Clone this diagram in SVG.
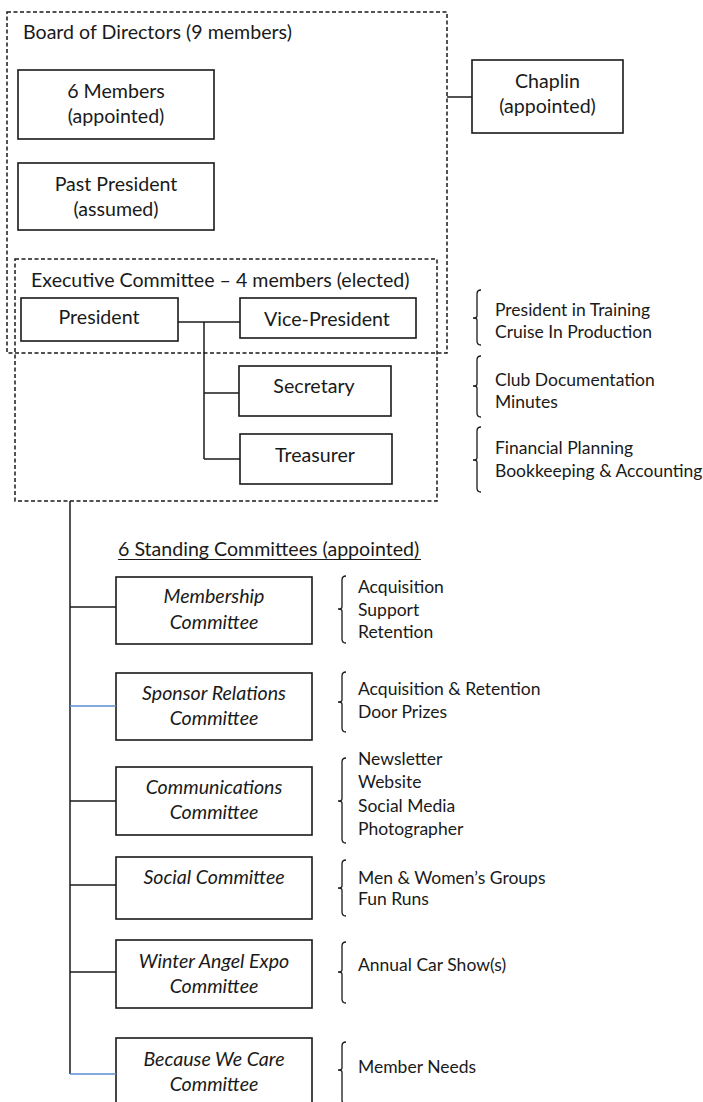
<svg xmlns="http://www.w3.org/2000/svg" width="703" height="1102" viewBox="0 0 703 1102">
<style>
.box{fill:#fff;stroke:#1a1a1a;stroke-width:1.6}
.dash{fill:none;stroke:#1a1a1a;stroke-width:1.5;stroke-dasharray:4 2.5}
.ln{fill:none;stroke:#1a1a1a;stroke-width:1.5}
.blue{fill:none;stroke:#5b8fd0;stroke-width:1.5}
.br{fill:none;stroke:#1a1a1a;stroke-width:1.3}
text{font-family:Lato,"Open Sans","Liberation Sans",sans-serif;fill:#1a1a1a}
.t{font-size:19.6px}
.c{font-size:19.6px;text-anchor:middle}
.i{font-size:19.6px;text-anchor:middle;font-style:italic}
.s{font-size:17.5px}
</style>
<rect width="703" height="1102" fill="#fff"/>
<g id="board">
<rect class="dash" x="7" y="12" width="440" height="341"/>
<text class="t" x="23" y="39">Board of Directors (9 members)</text>
</g>
<g id="members">
<rect class="box" x="18" y="70" width="196" height="69"/>
<text class="c" x="116" y="98">6 Members</text>
<text class="c" x="116" y="123">(appointed)</text>
</g>
<g id="past-president">
<rect class="box" x="18" y="163" width="196" height="67"/>
<text class="c" x="116" y="191">Past President</text>
<text class="c" x="116" y="216">(assumed)</text>
</g>
<g id="chaplin">
<rect class="box" x="472" y="60" width="151" height="73"/>
<text class="c" x="547.5" y="88">Chaplin</text>
<text class="c" x="547.5" y="113">(appointed)</text>
</g>
<g id="executive">
<rect class="dash" x="15" y="259" width="422" height="242"/>
<text class="t" x="31" y="287">Executive Committee – 4 members (elected)</text>
</g>
<g id="president">
<rect class="box" x="21" y="298" width="157" height="43"/>
<text class="c" x="99" y="324">President</text>
</g>
<g id="vice-president">
<rect class="box" x="240" y="298" width="176" height="40"/>
<text class="c" x="327" y="326">Vice-President</text>
</g>
<g id="secretary">
<rect class="box" x="239" y="366" width="152" height="50"/>
<text class="c" x="314" y="393">Secretary</text>
</g>
<g id="treasurer">
<rect class="box" x="240" y="434" width="152" height="50"/>
<text class="c" x="315" y="462">Treasurer</text>
</g>
<g id="vp-duties">
<path class="br" d="M481 290 Q477 290 477 294 L477 316 Q477 318 473 318 Q477 318 477 320 L477 341 Q477 345 481 345"/>
<text class="s" x="495" y="316">President in Training</text>
<text class="s" x="495" y="338">Cruise In Production</text>
</g>
<g id="secretary-duties">
<path class="br" d="M481 356 Q477 356 477 360 L477 384 Q477 386 473 386 Q477 386 477 388 L477 413 Q477 417 481 417"/>
<text class="s" x="495" y="386">Club Documentation</text>
<text class="s" x="495" y="408">Minutes</text>
</g>
<g id="treasurer-duties">
<path class="br" d="M481 427 Q477 427 477 431 L477 458 Q477 460 473 460 Q477 460 477 462 L477 488 Q477 492 481 492"/>
<text class="s" x="495" y="454">Financial Planning</text>
<text class="s" x="495" y="477">Bookkeeping &amp; Accounting</text>
</g>
<g id="standing-title">
<text class="t" x="118" y="556">6 Standing Committees (appointed)</text>
<line class="ln" x1="118" y1="559.5" x2="421" y2="559.5" style="stroke-width:1.2"/>
</g>
<g id="membership">
<rect class="box" x="116" y="577" width="196" height="67"/>
<text class="i" x="214" y="603">Membership</text>
<text class="i" x="214" y="629">Committee</text>
</g>
<g id="membership-duties">
<path class="br" d="M346 576 Q342 576 342 580 L342 607 Q342 609 338 609 Q342 609 342 611 L342 639 Q342 643 346 643"/>
<text class="s" x="358" y="593">Acquisition</text>
<text class="s" x="358" y="616">Support</text>
<text class="s" x="358" y="638">Retention</text>
</g>
<g id="sponsor">
<rect class="box" x="116" y="673" width="196" height="67"/>
<text class="i" x="214" y="700">Sponsor Relations</text>
<text class="i" x="214" y="725">Committee</text>
</g>
<g id="sponsor-duties">
<path class="br" d="M346 672 Q342 672 342 676 L342 700 Q342 702 338 702 Q342 702 342 704 L342 728 Q342 732 346 732"/>
<text class="s" x="358" y="695">Acquisition &amp; Retention</text>
<text class="s" x="358" y="718">Door Prizes</text>
</g>
<g id="communications">
<rect class="box" x="116" y="767" width="196" height="68"/>
<text class="i" x="214" y="794">Communications</text>
<text class="i" x="214" y="819">Committee</text>
</g>
<g id="communications-duties">
<path class="br" d="M346 758 Q342 758 342 762 L342 799 Q342 801 338 801 Q342 801 342 803 L342 839 Q342 843 346 843"/>
<text class="s" x="358" y="765">Newsletter</text>
<text class="s" x="358" y="788">Website</text>
<text class="s" x="358" y="812">Social Media</text>
<text class="s" x="358" y="835">Photographer</text>
</g>
<g id="social">
<rect class="box" x="116" y="857" width="196" height="62"/>
<text class="i" x="214" y="884">Social Committee</text>
</g>
<g id="social-duties">
<path class="br" d="M346 860 Q342 860 342 864 L342 886 Q342 888 338 888 Q342 888 342 890 L342 912 Q342 916 346 916"/>
<text class="s" x="358" y="884">Men &amp; Women’s Groups</text>
<text class="s" x="358" y="905">Fun Runs</text>
</g>
<g id="winter-angel">
<rect class="box" x="116" y="940" width="196" height="68"/>
<text class="i" x="214" y="968">Winter Angel Expo</text>
<text class="i" x="214" y="993">Committee</text>
</g>
<g id="winter-duties">
<path class="br" d="M346 942 Q342 942 342 946 L342 970 Q342 972 338 972 Q342 972 342 974 L342 999 Q342 1003 346 1003"/>
<text class="s" x="358" y="971">Annual Car Show(s)</text>
</g>
<g id="because-we-care">
<rect class="box" x="116" y="1038" width="196" height="80"/>
<text class="i" x="214" y="1066">Because We Care</text>
<text class="i" x="214" y="1091">Committee</text>
</g>
<g id="because-duties">
<path class="br" d="M346 1042 Q342 1042 342 1046 L342 1068 Q342 1070 338 1070 Q342 1070 342 1072 L342 1100 Q342 1104 346 1104"/>
<text class="s" x="358" y="1073">Member Needs</text>
</g>
<g id="connectors">
<line class="ln" x1="447" y1="97" x2="472" y2="97"/>
<line class="ln" x1="178" y1="322" x2="240" y2="322"/>
<line class="ln" x1="204" y1="322" x2="204" y2="459"/>
<line class="ln" x1="204" y1="393" x2="239" y2="393"/>
<line class="ln" x1="204" y1="459" x2="240" y2="459"/>
<line class="ln" x1="70" y1="501" x2="70" y2="1074"/>
<line class="ln" x1="70" y1="607" x2="116" y2="607"/>
<line class="blue" x1="70" y1="706" x2="116" y2="706"/>
<line class="ln" x1="70" y1="801" x2="116" y2="801"/>
<line class="ln" x1="70" y1="885" x2="116" y2="885"/>
<line class="ln" x1="70" y1="972" x2="116" y2="972"/>
<line class="blue" x1="70" y1="1074" x2="116" y2="1074"/>
</g>
</svg>
